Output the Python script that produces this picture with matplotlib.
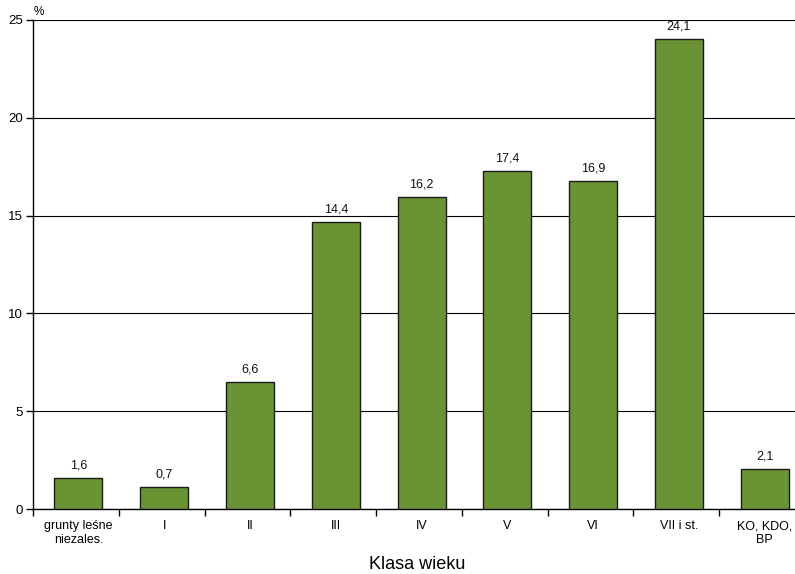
import matplotlib
matplotlib.use("Agg")
import matplotlib.pyplot as plt
import numpy as np

categories = ["grunty leśne\nniezales.", "I", "II", "III", "IV", "V", "VI", "VII i st.", "KO, KDO,\nBP"]
bar_values = [1.58, 1.12, 6.49, 14.65, 15.95, 17.28, 16.77, 24.03, 2.04]
value_labels = ["1,6", "0,7", "6,6", "14,4", "16,2", "17,4", "16,9", "24,1", "2,1"]
y_ticks = [0, 5, 10, 15, 20, 25]

plt.rcParams['font.family'] = ['Liberation Sans', 'DejaVu Sans']

fig = plt.figure(figsize=(7.95, 5.74), dpi=100)
ax = fig.add_axes([33/795, 65/574, (805-33)/795, 489/574])

x = np.arange(len(categories)) + 0.03
ax.bar(x, bar_values, width=0.56, color="#6a9433", edgecolor="#1a1a1a", linewidth=1.0, zorder=3)

for xi, v, lab in zip(x, bar_values, value_labels):
    ax.annotate(lab, (xi, v), xytext=(0, 5), textcoords="offset points",
                ha="center", va="bottom", fontsize=9, color="#111111")

ax.set_xlim(-0.5, len(categories) - 0.5)
ax.set_ylim(0, 25)
ax.set_yticks(y_ticks)
ax.set_yticklabels([str(t) for t in y_ticks], fontsize=9.5)
ax.yaxis.grid(True, color="black", linewidth=0.8, zorder=0)
ax.set_axisbelow(True)

ax.set_xticks(np.arange(len(categories) + 1) - 0.5)
ax.set_xticklabels([])
ax.set_xticks(x, minor=True)
ax.set_xticklabels(categories, minor=True, fontsize=9, linespacing=1.2)
ax.tick_params(axis="x", which="minor", length=0, pad=8)
ax.tick_params(axis="x", which="major", length=5, width=1, direction="out")
ax.tick_params(axis="y", length=5, width=1, direction="out", pad=2)

for s in ["top", "right"]:
    ax.spines[s].set_visible(False)
ax.spines["left"].set_linewidth(1)
ax.spines["bottom"].set_linewidth(1)

ax.set_xlabel("Klasa wieku", fontsize=13, labelpad=8)
ax.xaxis.set_label_coords((417-33)/772, -0.097)
fig.text(39/795, 1 - 12/574, "%", fontsize=8.5, ha="center", va="center")

fig.savefig("out.png", dpi=100)
